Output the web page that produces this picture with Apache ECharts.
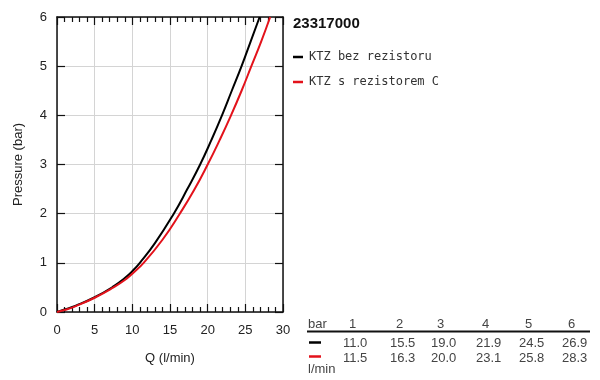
<!DOCTYPE html>
<html>
<head>
<meta charset="utf-8">
<script src="https://cdn.jsdelivr.net/npm/echarts@6/dist/echarts.min.js"></script>
<style>
  html, body { margin: 0; padding: 0; background: #fff; }
  #main { width: 600px; height: 380px; }
</style>
</head>
<body>
<div id="main"></div>
<script>
// curve points: [Q l/min, pressure bar]
var bezRezistoru = [[0, 0], [1, 0.05], [2.5, 0.13], [5, 0.3], [7.5, 0.52], [9, 0.69], [10, 0.83], [11, 1],
  [13, 1.4], [15.5, 2], [17.3, 2.5], [19, 3], [20.5, 3.5], [21.9, 4], [23.2, 4.5], [24.5, 5], [25.7, 5.5], [26.9, 6]];
var sRezistorem = [[0, 0], [1, 0.04], [2.5, 0.12], [5, 0.29], [7.5, 0.5], [9, 0.65], [10, 0.78], [11.5, 1],
  [14, 1.47], [16.3, 2], [18.2, 2.48], [20, 3], [21.6, 3.5], [23.1, 4], [24.5, 4.5], [25.8, 5], [27.1, 5.5], [28.3, 6]];

// table under the legend
var tableBar = ['1', '2', '3', '4', '5', '6'];
var tableBez = ['11.0', '15.5', '19.0', '21.9', '24.5', '26.9'];
var tableS = ['11.5', '16.3', '20.0', '23.1', '25.8', '28.3'];

var seriesNames = ['KTZ bez rezistoru', 'KTZ s rezistorem C'];
var seriesColors = ['#000000', '#e3121b'];

var myChart = echarts.init(document.getElementById('main'));

// 表格的列位置
var colX = [343, 390, 431, 476, 519, 562];
var tableFont = { fontFamily: 'Liberation Sans, Arial', fontSize: 13, fill: '#444' };
var graphics = [];

graphics.push({ type: 'text', left: 308, top: 318, style: Object.assign({ text: 'bar' }, tableFont) });
graphics.push({ type: 'line', shape: { x1: 307, y1: 331.5, x2: 590, y2: 331.5 }, style: { stroke: '#111', lineWidth: 2 } });
graphics.push({ type: 'line', shape: { x1: 309, y1: 342.5, x2: 321, y2: 342.5 }, style: { stroke: seriesColors[0], lineWidth: 2.5 } });
graphics.push({ type: 'line', shape: { x1: 309, y1: 356.5, x2: 321, y2: 356.5 }, style: { stroke: seriesColors[1], lineWidth: 2.5 } });
graphics.push({ type: 'text', left: 308, top: 363, style: Object.assign({ text: 'l/min' }, tableFont) });

for (var i = 0; i < tableBar.length; i++) {
  graphics.push({ type: 'text', left: colX[i] + 6, top: 318, style: Object.assign({ text: tableBar[i] }, tableFont) });
  graphics.push({ type: 'text', left: colX[i], top: 337, style: Object.assign({ text: tableBez[i] }, tableFont) });
  graphics.push({ type: 'text', left: colX[i], top: 352, style: Object.assign({ text: tableS[i] }, tableFont) });
}

var axisFont = { fontFamily: 'Liberation Sans, Arial', fontSize: 13, color: '#222' };
var frameLine = { show: true, onZero: false, lineStyle: { color: '#111', width: 1.5 } };
var majorTick = { show: true, inside: true, length: 8, lineStyle: { color: '#111', width: 1.2 } };
var minorTick = { show: true, splitNumber: 5, length: 5, lineStyle: { color: '#111', width: 1.2 } };

var option = {
  animation: false,
  title: {
    text: '23317000',
    left: 288,
    top: 11,
    textStyle: { fontFamily: 'Liberation Sans, Arial', fontSize: 15, fontWeight: 'bold', color: '#111' }
  },
  legend: {
    orient: 'vertical',
    left: 288,
    top: 46,
    itemGap: 13,
    itemWidth: 10,
    itemHeight: 2.5,
    icon: 'rect',
    data: seriesNames,
    textStyle: { fontFamily: 'DejaVu Sans Mono', fontSize: 12, color: '#333', padding: [0, 0, 0, 1] }
  },
  grid: { left: 57, top: 17, width: 226, height: 295 },
  xAxis: [
    {
      type: 'value', min: 0, max: 30, interval: 5,
      name: 'Q (l/min)', nameLocation: 'middle', nameGap: 40,
      nameTextStyle: axisFont,
      axisLine: frameLine,
      axisTick: majorTick,
      minorTick: minorTick,
      axisLabel: Object.assign({ margin: 12 }, axisFont),
      splitLine: { show: true, lineStyle: { color: '#d4d4d4', width: 1 } }
    },
    {
      type: 'value', min: 0, max: 30, interval: 5, position: 'top',
      axisLine: frameLine,
      axisTick: majorTick,
      minorTick: minorTick,
      axisLabel: { show: false },
      splitLine: { show: false }
    }
  ],
  yAxis: [
    {
      type: 'value', min: 0, max: 6, interval: 1,
      name: 'Pressure (bar)', nameLocation: 'middle', nameGap: 32,
      nameTextStyle: axisFont,
      axisLine: frameLine,
      axisTick: majorTick,
      axisLabel: Object.assign({ margin: 10 }, axisFont),
      splitLine: { show: true, lineStyle: { color: '#d4d4d4', width: 1 } }
    },
    {
      type: 'value', min: 0, max: 6, interval: 1, position: 'right',
      axisLine: frameLine,
      axisTick: majorTick,
      axisLabel: { show: false },
      splitLine: { show: false }
    }
  ],
  series: [
    {
      name: seriesNames[0], type: 'line', data: bezRezistoru, smooth: 0.5,
      showSymbol: false, color: seriesColors[0], lineStyle: { width: 2 }, z: 3
    },
    {
      name: seriesNames[1], type: 'line', data: sRezistorem, smooth: 0.5,
      showSymbol: false, color: seriesColors[1], lineStyle: { width: 2 }, z: 4
    }
  ],
  graphic: graphics
};

myChart.setOption(option);
</script>
</body>
</html>
